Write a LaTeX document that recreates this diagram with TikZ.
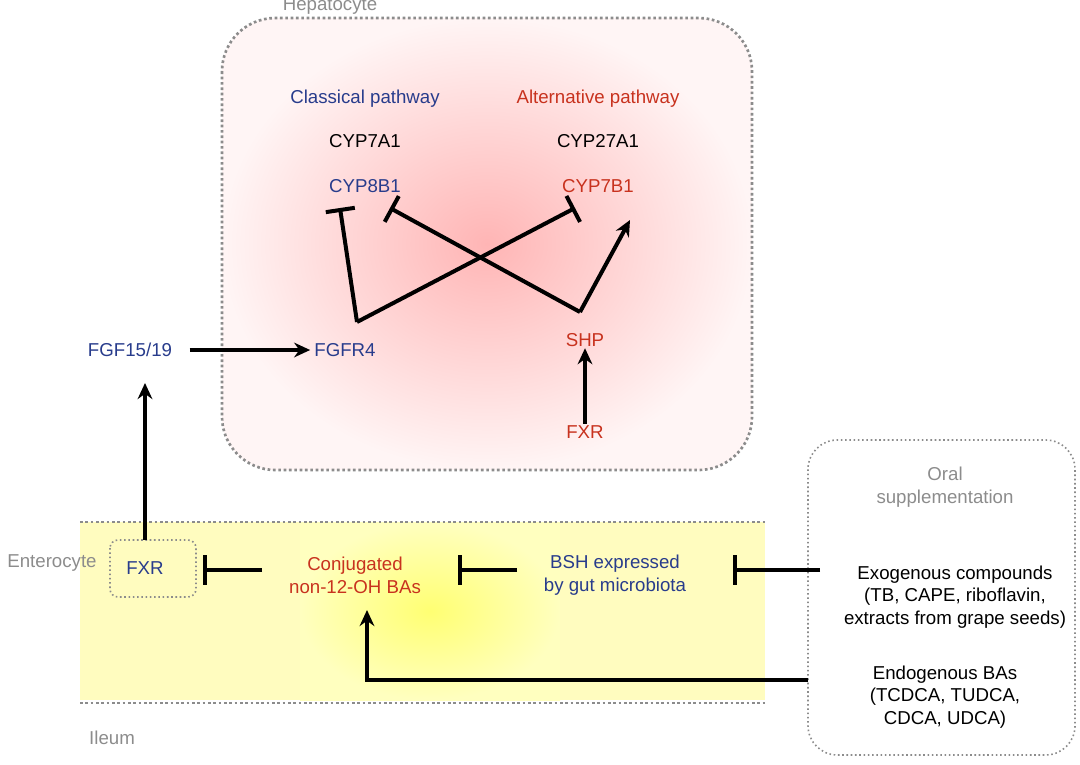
\documentclass[tikz,border=0pt]{standalone}
\usepackage{fontspec}
\setmainfont{Liberation Sans}
\usetikzlibrary{arrows.meta}
\definecolor{bl}{RGB}{40,60,140}
\definecolor{rd}{RGB}{200,50,30}
\definecolor{gr}{RGB}{140,140,140}
\begin{document}
\begin{tikzpicture}[x=0.75pt,y=-0.75pt,
  t/.style={font=\fontsize{14pt}{17pt}\selectfont,align=center,inner sep=1pt},
  lab/.style={t,text=gr},
  inh/.style={line width=3pt,-{Bar[width=22pt,line width=3pt]}},
  act/.style={line width=3pt,-{Stealth[length=12pt,width=11pt]}},
  dotbox/.style={draw=gr,dotted,line width=1.2pt,rounded corners=22pt}]
\useasboundingbox (0,0) rectangle (1080,764);
% hepatocyte
\shade[inner color=red!22!pink!70, outer color=white!96!red, rounded corners=40pt] (222,18) rectangle (752,470);
\draw[draw=gr,dotted,line width=2pt,rounded corners=40pt] (222,18) rectangle (752,470);
\node[lab] (hep) at (330,6) {Hepatocyte};
% ileum
\fill[yellow!25] (80,522) rectangle (765,700);
\shade[inner color=yellow!55, outer color=yellow!25] (300,522) rectangle (560,700);
\draw[gr,dotted,line width=2pt] (80,522) -- (765,522);
\draw[gr,dotted,line width=2pt] (80,703) -- (765,703);
\node[lab] (ent) at (52,563) {Enterocyte};
\node[lab] (ile) at (112,738) {Ileum};
\draw[dotbox,rounded corners=6pt] (110,540) rectangle (196,597);
\coordinate (fxrtop) at (145,540);
\coordinate (fgfb) at (145,383);
\coordinate (fxrright) at (203,570);
% oral
\draw[dotbox] (808,440) rectangle (1075,755);
\node[lab] (oral) at (945,487) {Oral\\supplementation};
% texts
\node[t,text=bl] (cl) at (365,99) {Classical pathway};
\node[t,text=rd] (al) at (598,99) {Alternative pathway};
\node[t] (c7) at (365,141) {CYP7A1};
\node[t] (c27) at (598,141) {CYP27A1};
\node[t,text=bl] (c8) at (365,186) {CYP8B1};
\node[t,text=rd] (c7b) at (598,186) {CYP7B1};
\node[t,text=bl] (fgfr) at (345,350) {FGFR4};
\node[t,text=rd] (shp) at (585,340) {SHP};
\node[t,text=rd] (fxrh) at (585,432) {FXR};
\node[t,text=bl] (fgf) at (130,350) {FGF15/19};
\node[t,text=bl] (fxri) at (145,568) {FXR};
\node[t,text=rd] (conj) at (355,575) {Conjugated\\non-12-OH BAs};
\node[t,text=bl] (bsh) at (615,575) {BSH expressed\\by gut microbiota};
\node[t] (exo) at (955,597) {Exogenous compounds\\(TB, CAPE, riboflavin,\\extracts from grape seeds)};
\node[t] (endo) at (945,697) {Endogenous BAs\\(TCDCA, TUDCA,\\CDCA, UDCA)};
% connectors
\coordinate (j1) at (357,322);
\coordinate (j2) at (580,312);
\coordinate (b1) at (340,208);
\coordinate (b2) at (575,208);
\coordinate (b3) at (390,208);
\coordinate (a1) at (630,220);
\draw[inh] (j1) -- (b1);
\draw[inh] (j1) -- (b2);
\draw[inh] (j2) -- (b3);
\draw[act] (j2) -- (a1);
\draw[act] (fxrh) -- (shp);
\draw[act,shorten <=12pt,shorten >=2pt] (fgf.east) -- (fgfr.west);
\draw[act] (fxrtop) -- (fgfb);
\coordinate (c1) at (262,570);
\coordinate (c2) at (458,570);
\coordinate (c3) at (517,570);
\coordinate (c4) at (733,570);
\coordinate (c5) at (820,570);
\coordinate (e1) at (808,680);
\coordinate (e2) at (367,680);
\coordinate (e3) at (367,610);
\draw[inh] (c1) -- (fxrright);
\draw[inh] (c3) -- (c2);
\draw[inh] (c5) -- (c4);
\draw[act] (e1) -- (e2) -- (e3);
\end{tikzpicture}
\end{document}
